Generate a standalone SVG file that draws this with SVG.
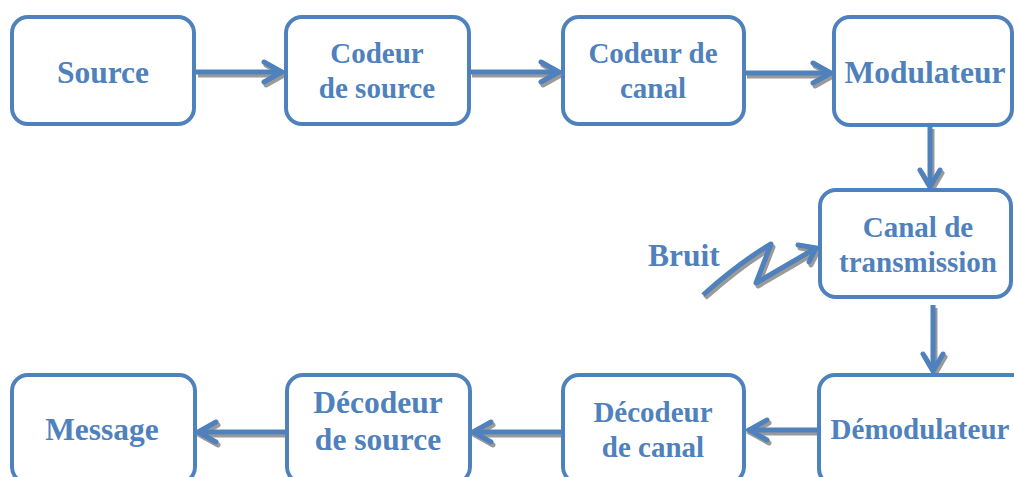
<svg xmlns="http://www.w3.org/2000/svg" width="1014" height="477" viewBox="0 0 1014 477">
  <defs>
    <style>
      .box { fill: #ffffff; stroke: #4f81bd; stroke-width: 4; }
      .lbl { font-family: "Liberation Serif", "Times New Roman", serif; font-weight: bold; fill: #4f81bd; text-anchor: middle; }
      .big { font-size: 31.5px; }
      .mid { font-size: 29px; }
      .shaft { fill: none; stroke: #4f81bd; stroke-width: 5; stroke-linecap: butt; stroke-linejoin: round; }
      .shadow { fill: none; stroke: #9a9a9a; stroke-width: 5; stroke-linecap: butt; stroke-linejoin: round; }
      .head { fill: none; stroke: #4f81bd; stroke-width: 5; stroke-linecap: round; stroke-linejoin: miter; }
      .headsh { fill: none; stroke: #9a9a9a; stroke-width: 5; stroke-linecap: round; stroke-linejoin: miter; }
    </style>
  </defs>

  <!-- Connectors -->
  <g id="connectors">
    <!-- Source -> Codeur de source -->
    <g transform="translate(2,3)">
      <path class="shadow" d="M196 72 H282"/><path class="headsh" d="M264 62 L282 72 L264 82"/>
    </g>
    <path class="shaft" d="M196 72 H282"/><path class="head" d="M264 62 L282 72 L264 82"/>

    <!-- Codeur de source -> Codeur de canal -->
    <g transform="translate(2,3)">
      <path class="shadow" d="M470 72 H559"/><path class="headsh" d="M541 62 L559 72 L541 82"/>
    </g>
    <path class="shaft" d="M470 72 H559"/><path class="head" d="M541 62 L559 72 L541 82"/>

    <!-- Codeur de canal -> Modulateur -->
    <g transform="translate(2,3)">
      <path class="shadow" d="M745 73 H831"/><path class="headsh" d="M813 63 L831 73 L813 83"/>
    </g>
    <path class="shaft" d="M745 73 H831"/><path class="head" d="M813 63 L831 73 L813 83"/>

    <!-- Modulateur -> Canal de transmission -->
    <g transform="translate(2,3)">
      <path class="shadow" d="M930 126 V187"/><path class="headsh" d="M920 170 L930 187 L940 170"/>
    </g>
    <path class="shaft" d="M930 126 V187"/><path class="head" d="M920 170 L930 187 L940 170"/>

    <!-- Canal de transmission -> Démodulateur -->
    <g transform="translate(2,3)">
      <path class="shadow" d="M933 305 V371"/><path class="headsh" d="M923 354 L933 371 L943 354"/>
    </g>
    <path class="shaft" d="M933 305 V371"/><path class="head" d="M923 354 L933 371 L943 354"/>

    <!-- Démodulateur -> Décodeur de canal -->
    <g transform="translate(2,3)">
      <path class="shadow" d="M817 430 H749"/><path class="headsh" d="M767 420 L749 430 L767 440"/>
    </g>
    <path class="shaft" d="M817 430 H749"/><path class="head" d="M767 420 L749 430 L767 440"/>

    <!-- Décodeur de canal -> Décodeur de source -->
    <g transform="translate(2,3)">
      <path class="shadow" d="M561 432 H473"/><path class="headsh" d="M491 422 L473 432 L491 442"/>
    </g>
    <path class="shaft" d="M561 432 H473"/><path class="head" d="M491 422 L473 432 L491 442"/>

    <!-- Décodeur de source -> Message -->
    <g transform="translate(2,3)">
      <path class="shadow" d="M285 432 H198"/><path class="headsh" d="M216 422 L198 432 L216 442"/>
    </g>
    <path class="shaft" d="M285 432 H198"/><path class="head" d="M216 422 L198 432 L216 442"/>

    <!-- Noise bolt into the channel -->
    <g transform="translate(2,3)">
      <path class="shadow" d="M703 295 Q740 262 771 244 L756 283 L816 248"/>
      <path class="headsh" d="M798 245 L816 248 L809 262"/>
    </g>
    <path class="shaft" d="M703 295 Q740 262 771 244 L756 283 L816 248"/>
    <path class="head" d="M798 245 L816 248 L809 262"/>
  </g>

  <!-- Nodes -->
  <g id="source">
    <rect class="box" x="12" y="17" width="182" height="107" rx="16"/>
    <text class="lbl big" x="103" y="83">Source</text>
  </g>
  <g id="codeur-source">
    <rect class="box" x="286" y="17" width="183" height="107" rx="16"/>
    <text class="lbl mid" x="377" y="63">Codeur</text>
    <text class="lbl mid" x="377" y="98">de source</text>
  </g>
  <g id="codeur-canal">
    <rect class="box" x="563" y="17" width="181" height="107" rx="16"/>
    <text class="lbl mid" x="653" y="63">Codeur de</text>
    <text class="lbl mid" x="653" y="98">canal</text>
  </g>
  <g id="modulateur">
    <rect class="box" x="834" y="17" width="178" height="108" rx="16"/>
    <text class="lbl big" x="925" y="83">Modulateur</text>
  </g>
  <g id="canal-transmission">
    <rect class="box" x="820" y="190" width="191" height="107" rx="16"/>
    <text class="lbl mid" x="918" y="237">Canal de</text>
    <text class="lbl mid" x="918" y="272">transmission</text>
  </g>
  <g id="bruit">
    <text class="lbl big" x="684" y="266">Bruit</text>
  </g>
  <g id="demodulateur">
    <rect class="box" x="819" y="375" width="210" height="110" rx="16"/>
    <text class="lbl mid" x="920" y="439">Démodulateur</text>
  </g>
  <g id="decodeur-canal">
    <rect class="box" x="563" y="375" width="181" height="108" rx="16"/>
    <text class="lbl mid" x="653" y="422">Décodeur</text>
    <text class="lbl mid" x="653" y="457">de canal</text>
  </g>
  <g id="decodeur-source">
    <rect class="box" x="287" y="375" width="183" height="108" rx="16"/>
    <text class="lbl big" x="378" y="413">Décodeur</text>
    <text class="lbl big" x="378" y="450">de source</text>
  </g>
  <g id="message">
    <rect class="box" x="12" y="375" width="183" height="108" rx="16"/>
    <text class="lbl big" x="102" y="440">Message</text>
  </g>
</svg>
